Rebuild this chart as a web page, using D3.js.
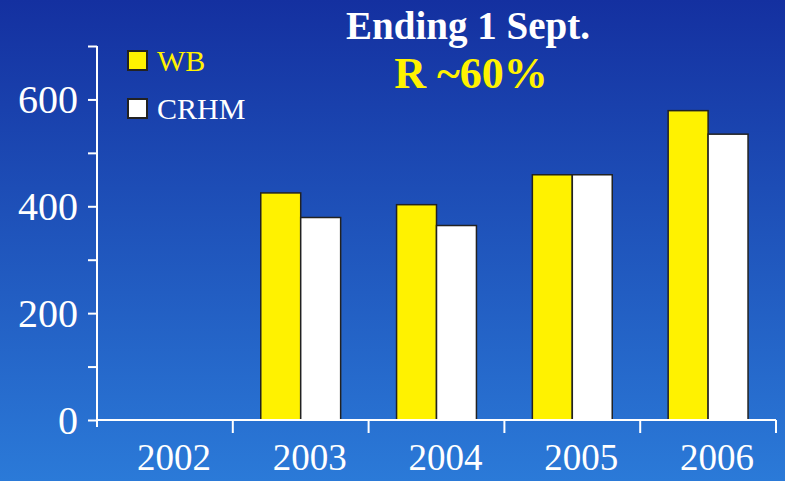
<!DOCTYPE html>
<html>
<head>
<meta charset="utf-8">
<script src="https://cdn.jsdelivr.net/npm/d3@7"></script>
<style>
  html, body { margin: 0; padding: 0; }
  #visualization { width: 785px; height: 481px; }
</style>
</head>
<body>
<div id="visualization"></div>
<script>
// Chart data
const years = ['2002', '2003', '2004', '2005', '2006'];
const seriesNames = ['WB', 'CRHM'];
const wbValues = [null, 425, 403, 459, 579];
const crhmValues = [null, 379, 364, 459, 535];
const yTicks = [0, 200, 400, 600];

const width = 785;
const height = 481;
const margin = { top: 46, right: 9, bottom: 61, left: 97 };
const innerWidth = width - margin.left - margin.right;
const innerHeight = height - margin.top - margin.bottom;
const serif = '"Liberation Serif", "Times New Roman", serif';

const svg = d3.select('#visualization')
  .append('svg')
  .attr('width', width)
  .attr('height', height);

// Background gradient
const grad = svg.append('defs').append('linearGradient')
  .attr('id', 'bg')
  .attr('x1', 0).attr('y1', 0).attr('x2', 0).attr('y2', 1);
grad.append('stop').attr('offset', '0%').attr('stop-color', '#1430a0');
grad.append('stop').attr('offset', '100%').attr('stop-color', '#2b7ad8');
svg.append('rect')
  .attr('width', width)
  .attr('height', height)
  .attr('fill', 'url(#bg)');

const chart = svg.append('g')
  .attr('transform', `translate(${margin.left},${margin.top})`);

const x = d3.scaleBand()
  .domain(years)
  .range([0, innerWidth])
  .paddingInner(0)
  .paddingOuter(0);

const x1 = d3.scaleBand()
  .domain(seriesNames)
  .range([0, x.bandwidth()])
  .paddingOuter(0.7)
  .paddingInner(0);

const y = d3.scaleLinear()
  .domain([0, 700])
  .range([innerHeight, 0]);

const colorScale = d3.scaleOrdinal()
  .domain(seriesNames)
  .range(['#fff200', '#ffffff']);

// Bars
const rows = years.map((yr, i) => ({ year: yr, values: [
  { key: 'WB', value: wbValues[i] },
  { key: 'CRHM', value: crhmValues[i] }
]}));

const groups = chart.selectAll('g.year')
  .data(rows)
  .join('g')
  .attr('class', 'year')
  .attr('transform', d => `translate(${x(d.year)},0)`);

groups.selectAll('rect')
  .data(d => d.values.filter(v => v.value != null))
  .join('rect')
  .attr('x', d => x1(d.key))
  .attr('y', d => y(d.value))
  .attr('width', x1.bandwidth())
  .attr('height', d => innerHeight - y(d.value))
  .attr('fill', d => colorScale(d.key))
  .attr('stroke', '#222')
  .attr('stroke-width', 1.5);

// Y axis: minor ticks every 100, labels every 200
const yAxis = d3.axisLeft(y)
  .tickValues(d3.range(0, 701, 100))
  .tickSize(9)
  .tickFormat('');

const yG = chart.append('g').call(yAxis);
yG.select('.domain').remove();
yG.selectAll('.tick text').remove();
yG.append('line')
  .attr('x1', 0).attr('x2', 0)
  .attr('y1', 0).attr('y2', innerHeight + 7)
  .attr('stroke', '#fff').attr('stroke-width', 2);
yG.selectAll('.tick line').attr('stroke', '#fff').attr('stroke-width', 2);
yG.selectAll('text.ylab')
  .data(yTicks)
  .join('text')
  .attr('class', 'ylab')
  .attr('x', -19)
  .attr('y', d => y(d))
  .attr('dy', '0.34em')
  .attr('text-anchor', 'end')
  .attr('fill', '#fff')
  .style('font-family', serif)
  .style('font-size', '40px')
  .text(d => d);

// X axis
const xAxis = d3.axisBottom(x)
  .tickSize(0)
  .tickFormat(d => d);
const xG = chart.append('g')
  .attr('transform', `translate(0,${innerHeight})`)
  .call(xAxis);
xG.select('.domain')
  .attr('d', `M0,0H${innerWidth}`)
  .attr('stroke', '#fff').attr('stroke-width', 2);
xG.selectAll('.tick text')
  .attr('y', 50)
  .attr('dy', 0)
  .attr('dx', 9)
  .attr('fill', '#fff')
  .style('font-family', serif)
  .style('font-size', '37px');

// Category separator ticks
xG.selectAll('line.sep')
  .data(years.slice(1).concat(['end']))
  .join('line')
  .attr('class', 'sep')
  .attr('x1', d => d === 'end' ? innerWidth : x(d))
  .attr('x2', d => d === 'end' ? innerWidth : x(d))
  .attr('y1', 0)
  .attr('y2', 13)
  .attr('stroke', '#fff')
  .attr('stroke-width', 2);

// Title
svg.append('text')
  .attr('x', 468)
  .attr('y', 39)
  .attr('text-anchor', 'middle')
  .style('font-family', serif)
  .style('font-weight', 'bold')
  .style('font-size', '39px')
  .style('fill', '#fff')
  .text('Ending 1 Sept.');

svg.append('text')
  .attr('x', 471)
  .attr('y', 88)
  .attr('text-anchor', 'middle')
  .style('font-family', serif)
  .style('font-weight', 'bold')
  .style('font-size', '44px')
  .style('fill', '#fff200')
  .text('R ~60%');

// Legend
const legend = svg.append('g')
  .attr('transform', 'translate(128, 51)');

seriesNames.forEach((name, i) => {
  const row = legend.append('g')
    .attr('transform', `translate(0, ${i * 48})`);
  row.append('rect')
    .attr('width', 19)
    .attr('height', 19)
    .attr('fill', colorScale(name))
    .attr('stroke', '#222')
    .attr('stroke-width', 2);
  row.append('text')
    .attr('x', 29)
    .attr('y', 20)
    .style('font-family', serif)
    .style('font-size', '30px')
    .style('fill', i === 0 ? '#fff200' : '#fff')
    .text(name);
});
</script>
</body>
</html>
